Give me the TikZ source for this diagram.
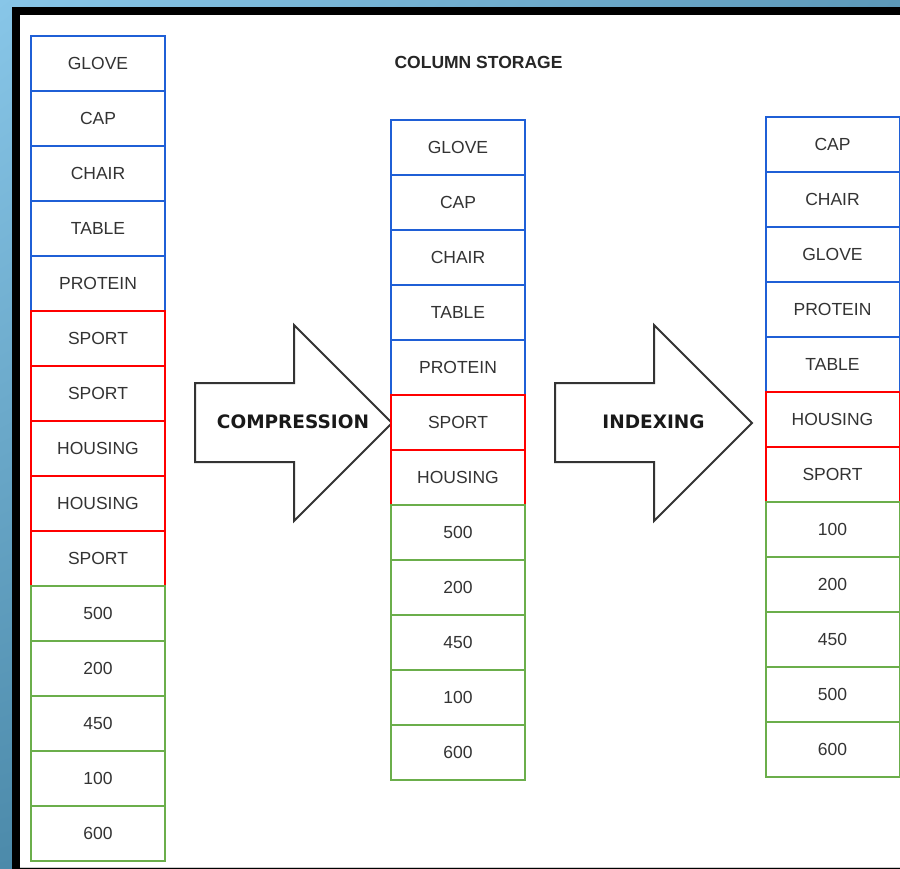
\documentclass[tikz,border=0pt]{standalone}
\usepackage{fontspec}
\setmainfont{Liberation Sans}
\newfontfamily\labelfont{DejaVu Sans}
\usetikzlibrary{shadings}
\definecolor{bgA}{HTML}{88C6E8}
\definecolor{bgB}{HTML}{5C98B8}
\definecolor{bgC}{HTML}{4C8AAA}
\definecolor{bgD}{HTML}{3E7898}
\definecolor{cellblue}{HTML}{1F5FD6}
\definecolor{cellred}{HTML}{FF0000}
\definecolor{cellgreen}{HTML}{6BAE4B}
\definecolor{txtgray}{HTML}{333333}
\definecolor{edgegray}{HTML}{333333}
\begin{document}
\begin{tikzpicture}[x=1pt,y=-1pt,
  cell/.style={draw, line width=2pt, minimum width=134pt, minimum height=55pt,
    inner sep=0pt, outer sep=0pt, text=txtgray, fill=white,
    font=\fontsize{17.5}{20}\selectfont},
  bluecell/.style={cell, draw=cellblue},
  redcell/.style={cell, draw=cellred},
  greencell/.style={cell, draw=cellgreen},
  blockarrow/.style={draw=edgegray, line width=2pt, fill=white, line join=miter},
  arrowlabel/.style={inner sep=0pt, text=black!90, font=\labelfont\bfseries\fontsize{18.5}{22}\selectfont},
  titlelabel/.style={inner sep=0pt, text=black!85, font=\bfseries\fontsize{17.5}{20}\selectfont}]
\useasboundingbox (0,0) rectangle (900,869);

% window backdrop and frame
\shade[upper left=bgA, upper right=bgB, lower left=bgC, lower right=bgD] (0,0) rectangle (900,869);
\fill[black] (12,7) rectangle (905,875);
\fill[white] (20,15) rectangle (905,867);
\draw[black!20, line width=1pt] (20,867.5) -- (905,867.5);

% title
\node[titlelabel] (title) at (478.5,62) {COLUMN STORAGE};

% block arrows
\draw[blockarrow] (195,383) -- (294,383) -- (294,325) -- (392,423) -- (294,521) -- (294,462) -- (195,462) -- cycle;
\node[arrowlabel] (compress) at (293,422) {COMPRESSION};
\draw[blockarrow] (555,383) -- (654,383) -- (654,325) -- (752,423) -- (654,521) -- (654,462) -- (555,462) -- cycle;
\node[arrowlabel] (index) at (653.5,422) {INDEXING};

% raw column
\foreach \t [count=\i] in {GLOVE,CAP,CHAIR,TABLE,PROTEIN}
  \node[bluecell] (raw\i) at (98,{63.5+55*(\i-1)}) {\t};
\foreach \t [count=\i from 6] in {SPORT,SPORT,HOUSING,HOUSING,SPORT}
  \node[redcell] (raw\i) at (98,{63.5+55*(\i-1)}) {\t};
\foreach \t [count=\i from 11] in {500,200,450,100,600}
  \node[greencell] (raw\i) at (98,{63.5+55*(\i-1)}) {\t};

% compressed column
\foreach \t [count=\i] in {GLOVE,CAP,CHAIR,TABLE,PROTEIN}
  \node[bluecell] (cmp\i) at (458,{147.5+55*(\i-1)}) {\t};
\foreach \t [count=\i from 6] in {SPORT,HOUSING}
  \node[redcell] (cmp\i) at (458,{147.5+55*(\i-1)}) {\t};
\foreach \t [count=\i from 8] in {500,200,450,100,600}
  \node[greencell] (cmp\i) at (458,{147.5+55*(\i-1)}) {\t};

% indexed column
\foreach \t [count=\i] in {CAP,CHAIR,GLOVE,PROTEIN,TABLE}
  \node[bluecell] (idx\i) at (832.5,{144.5+55*(\i-1)}) {\t};
\foreach \t [count=\i from 6] in {HOUSING,SPORT}
  \node[redcell] (idx\i) at (832.5,{144.5+55*(\i-1)}) {\t};
\foreach \t [count=\i from 8] in {100,200,450,500,600}
  \node[greencell] (idx\i) at (832.5,{144.5+55*(\i-1)}) {\t};
\end{tikzpicture}
\end{document}
